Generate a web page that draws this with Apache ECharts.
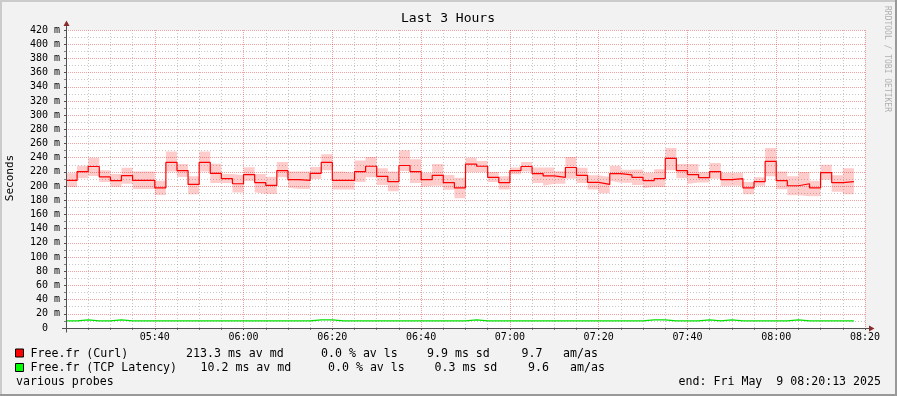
<!DOCTYPE html>
<html>
<head>
<meta charset="utf-8">
<script src="https://cdn.jsdelivr.net/npm/echarts@6/dist/echarts.min.js"></script>
<style>
html,body{margin:0;padding:0;background:#f2f2f2;}
#chart{width:897px;height:396px;}
</style>
</head>
<body>
<div id="chart"></div>
<script>
// ---- data (ms) ----
// minutes since 05:00; first step starts at 05:20:13, steps are 2.5 min long
var stepStartFirst = 20 + 13 / 60;
var stepMinutes = 2.5;
var curlMedian = [208, 220.5, 227.6, 212.9, 207.6, 214.8, 208, 208, 197.6, 233.3,
  221.9, 202.4, 233.3, 218, 210.5, 203.3, 216.2, 205, 201, 221.9,
  209, 208, 218, 233.3, 208, 208, 220.5, 228, 213.8, 206.2,
  229, 220.5, 209, 215.2, 204.8, 197.6, 231, 228, 212.4, 204.8,
  221.9, 227.6, 217.6, 214.3, 212.4, 226.2, 215.2, 205.2, 202.4, 217.6,
  215.7, 212.2, 207.6, 210.5, 239, 221.9, 216.2, 211.9, 220.5, 209,
  210.5, 197.6, 206.2, 234.8, 207.6, 200.5, 203.3, 197.6, 219, 204.8,
  206.2];
var curlHigh = [218, 228.6, 239.5, 222.4, 217, 226, 220.5, 220.5, 207.6, 248.6,
  231, 213.8, 248.6, 231.4, 217, 215.2, 226.7, 217, 213.3, 233.8,
  220.5, 220.5, 227, 245, 220.5, 218.6, 236.2, 241, 225.2, 220.5,
  250.5, 238, 218.6, 231, 215.5, 211.9, 239.5, 235.2, 220, 213.8,
  226.2, 233.8, 226.2, 226.2, 221, 241, 225.7, 215.2, 212.9, 228.6,
  222.9, 223.3, 218.6, 223.8, 253.8, 231, 231, 219.5, 232.4, 218.6,
  218.6, 205.7, 212.4, 253.8, 220.5, 213.8, 220, 207.6, 230, 215.2,
  225.2];
var curlLow = [198.6, 211, 214.3, 205.7, 199, 203.3, 196, 196, 187.6, 220.5,
  212.9, 188.6, 220.5, 204.3, 204.3, 191, 207.1, 191.2, 189, 212.4,
  197.6, 196, 210, 222.4, 195.2, 195.2, 205.7, 212.4, 201.4, 192.9,
  221.4, 204.3, 199, 200.5, 194.7, 182.9, 220, 220, 205.7, 195.2,
  216.7, 220.5, 204.3, 200.5, 203.3, 210.5, 204.3, 195.2, 190, 207.6,
  204.8, 201.5, 197.1, 198.6, 222.4, 211, 202.9, 205.2, 210.5, 200,
  200.5, 188.6, 200.5, 213.8, 195.7, 187.1, 187.1, 185.7, 209, 191.9,
  188.6];
var tcpMedian = [10, 11.5, 10, 10, 11.5, 10, 10, 10, 10, 10,
  10, 10, 10, 10, 10, 10, 10, 10, 10, 10,
  10, 10, 11.5, 11.5, 10, 10, 10, 10, 10, 10,
  10, 10, 10, 10, 10, 10, 11.5, 10, 10, 10,
  10, 10, 10, 10, 10, 10, 10, 10, 10, 10,
  10, 10, 11.5, 11.5, 10, 10, 10, 11.5, 10, 11.5,
  10, 10, 10, 10, 10, 11.5, 10, 10, 10, 10,
  10];
var xTickMin = 20, xTickMax = 200, xTickInterval = 20;   // 05:20 .. 08:20 (minutes since 05:00)
var yMax = 420, yInterval = 20;

var legendRows = [
  {name: 'Free.fr (Curl)', color: '#ff0000',
   cols: ['213.3 ms av md', '0.0 % av ls', '9.9 ms sd', '9.7', 'am/as']},
  {name: 'Free.fr (TCP Latency)', color: '#00ff00',
   cols: ['10.2 ms av md', '0.0 % av ls', '0.3 ms sd', '9.6', 'am/as']}
];
var titleText = 'Last 3 Hours';
var yTitle = 'Seconds';
var footLeft = 'various probes';
var footRight = 'end: Fri May  9 08:20:13 2025';
var sideText = 'RRDTOOL / TOBI OETIKER';

// ---- build series (on a hidden time axis so stacking works on y) ----
var BASE = Date.UTC(2025, 4, 9, 5, 0, 0);
function ms(min) { return BASE + min * 60000; }
function stepTimes(n) {
  var t = [];
  for (var k = 0; k < n; k++) t.push(k === 0 ? stepStartFirst : xTickMin + stepMinutes * k);
  t.push(xTickMin + stepMinutes * n);
  return t;
}
var times = stepTimes(curlMedian.length);
function pairs(vals) {
  var out = [];
  for (var i = 0; i < vals.length; i++) out.push([ms(times[i]), vals[i]]);
  out.push([ms(times[vals.length]), vals[vals.length - 1]]);
  return out;
}
var bandHeight = curlHigh.map(function (h, i) { return h - curlLow[i]; });

var FONT = 'DejaVu Sans Mono';
var G = {left: 66, right: 32, top: 30, bottom: 68};
var W = 897, H = 396;
var x0 = G.left + 0.5, y0 = H - G.bottom + 0.5;

function fmtTime(v) {
  if (v === xTickMin) return '';
  var h = 5 + Math.floor(v / 60), m = v % 60;
  return (h < 10 ? '0' : '') + h + ':' + (m < 10 ? '0' : '') + m;
}

var majorGrid = {show: true, lineStyle: {color: 'rgba(222,48,48,0.45)', type: [1, 1], width: 1}};
var minorGrid = {show: true, lineStyle: {color: 'rgba(143,143,143,0.5)', type: [1, 2], width: 1}};

var graphics = [
  {type: 'rect', shape: {x: 0, y: 0, width: W, height: 2}, style: {fill: '#cbcbcb'}, silent: true},
  {type: 'rect', shape: {x: 0, y: 0, width: 2, height: H}, style: {fill: '#cbcbcb'}, silent: true},
  {type: 'rect', shape: {x: 0, y: H - 2, width: W, height: 2}, style: {fill: '#999999'}, silent: true},
  {type: 'rect', shape: {x: W - 2, y: 0, width: 2, height: H}, style: {fill: '#999999'}, silent: true},
  {type: 'line', shape: {x1: x0, y1: y0 + 4, x2: x0, y2: 23}, style: {stroke: '#505050', lineWidth: 1}, z: 10},
  {type: 'polygon', shape: {points: [[x0, 20.5], [x0 - 3, 26], [x0 + 3, 26]]}, style: {fill: '#8b2a2a'}, z: 10},
  {type: 'line', shape: {x1: G.left - 4, y1: y0, x2: 870, y2: y0}, style: {stroke: '#505050', lineWidth: 1}, z: 10},
  {type: 'polygon', shape: {points: [[874.5, y0], [869, y0 - 3], [869, y0 + 3]]}, style: {fill: '#8b2a2a'}, z: 10},
  {type: 'text', x: 448, y: 19, style: {text: titleText, font: '13px "' + FONT + '"', fill: '#000', align: 'center', verticalAlign: 'middle'}},
  {type: 'text', x: 10, y: 178, rotation: Math.PI / 2, style: {text: yTitle, font: '11px "' + FONT + '"', fill: '#000', align: 'center', verticalAlign: 'middle'}},
  {type: 'text', x: 887, y: 59, rotation: -Math.PI / 2, style: {text: sideText, font: '8px "' + FONT + '"', fill: '#b0b0b0', align: 'center', verticalAlign: 'middle'}},
  {type: 'text', x: 16, y: 382, style: {text: footLeft, font: '11.6px "' + FONT + '"', fill: '#000', align: 'left', verticalAlign: 'middle'}},
  {type: 'text', x: 881, y: 382, style: {text: footRight, font: '11.6px "' + FONT + '"', fill: '#000', align: 'right', verticalAlign: 'middle'}}
];
var colX = [[186, 321, 427, 521.5, 563], [200.5, 328, 434.5, 528, 570]];
var rowY = [353.5, 368];
legendRows.forEach(function (r, i) {
  graphics.push({type: 'rect', shape: {x: 15.5, y: rowY[i] - 4.5, width: 8, height: 8}, style: {fill: r.color, stroke: '#000', lineWidth: 1}});
  graphics.push({type: 'text', x: 30.5, y: rowY[i], style: {text: r.name, font: '11.6px "' + FONT + '"', fill: '#000', verticalAlign: 'middle'}});
  r.cols.forEach(function (c, j) {
    graphics.push({type: 'text', x: colX[i][j], y: rowY[i], style: {text: c, font: '11.6px "' + FONT + '"', fill: '#000', verticalAlign: 'middle'}});
  });
});

var chart = echarts.init(document.getElementById('chart'));
chart.setOption({
  animation: false,
  backgroundColor: '#f2f2f2',
  grid: {left: G.left, right: G.right, top: G.top, bottom: G.bottom, show: true, backgroundColor: '#ffffff', borderWidth: 0},
  xAxis: [{
    type: 'value', min: xTickMin, max: xTickMax, interval: xTickInterval,
    axisLine: {show: false},
    axisTick: {show: true, length: 2, lineStyle: {color: '#505050'}},
    minorTick: {show: true, splitNumber: 4, length: 2, lineStyle: {color: '#808080'}},
    splitLine: majorGrid,
    minorSplitLine: minorGrid,
    axisLabel: {formatter: fmtTime, fontFamily: FONT, fontSize: 10, color: '#000', margin: 4}
  }, {
    type: 'time', min: ms(xTickMin), max: ms(xTickMax), show: false,
    splitLine: {show: false}
  }],
  yAxis: {
    type: 'value', min: 0, max: yMax, interval: yInterval,
    axisLine: {show: false},
    axisTick: {show: true, length: 2, lineStyle: {color: '#505050'}},
    minorTick: {show: true, splitNumber: 2, length: 2, lineStyle: {color: '#808080'}},
    splitLine: majorGrid,
    minorSplitLine: minorGrid,
    axisLabel: {formatter: function (v) { return v === 0 ? '0  ' : v + ' m'; }, fontFamily: FONT, fontSize: 10, color: '#000', margin: 6}
  },
  series: [
    {type: 'line', name: 'low', xAxisIndex: 1, stack: 'curl', step: 'end', symbol: 'none', silent: true,
     lineStyle: {opacity: 0}, data: pairs(curlLow)},
    {type: 'line', name: 'band', xAxisIndex: 1, stack: 'curl', step: 'end', symbol: 'none', silent: true,
     lineStyle: {opacity: 0}, areaStyle: {color: 'rgba(255,0,0,0.2)', opacity: 1}, data: pairs(bandHeight)},
    {type: 'line', name: 'Free.fr (Curl)', xAxisIndex: 1, step: 'end', symbol: 'none', silent: true,
     lineStyle: {color: '#ff0000', width: 1.2}, data: pairs(curlMedian), z: 5},
    {type: 'line', name: 'Free.fr (TCP Latency)', xAxisIndex: 1, step: 'end', symbol: 'none', silent: true,
     lineStyle: {color: '#00e000', width: 1.2}, data: pairs(tcpMedian), z: 5}
  ],
  graphic: graphics
});
</script>
</body>
</html>
